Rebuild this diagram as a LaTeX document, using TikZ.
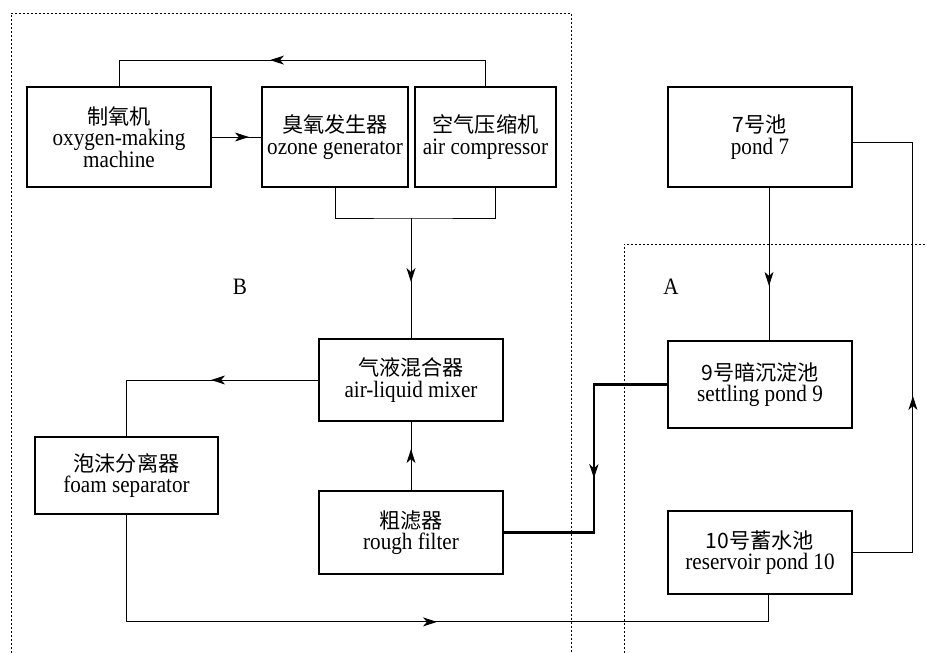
\documentclass[tikz,border=0pt]{standalone}
\usepackage{fontspec}
\setmainfont{Liberation Serif}[FakeStretch=0.9]
\newfontfamily\cjk{Noto Sans CJK SC}[Scale=0.9]
\usetikzlibrary{arrows.meta,decorations.markings,calc}
\tikzset{
  box/.style={draw, line width=1.8pt, inner sep=0pt, align=center,
    font=\fontsize{23.5}{21.5}\selectfont},
  conn/.style={line width=1pt},
  thickconn/.style={line width=2.4pt},
  region/.style={line width=0.9pt, dash pattern=on 2pt off 2pt},
  lab/.style={font=\fontsize{23.5}{22}\selectfont, inner sep=0pt},
  arrowat/.style={postaction={decorate}, decoration={markings,
    mark=at position #1 with {\arrow{Stealth[length=14pt,width=9pt,inset=4pt]}}}}
}
\begin{document}
\begin{tikzpicture}[x=1pt,y=-1pt]
\useasboundingbox (0,0) rectangle (927,653);
\fill[white] (0,0) rectangle (927,653);

% regions
\draw[region] (11,653) -- (11,13.5) -- (571,13.5) -- (571,653);
\draw[region] (624,653) -- (624,244) -- (927,244);
\node[lab] (lb) at (240,287) {B};
\node[lab] (la) at (671,287) {A};

% boxes
\node[box, minimum width=184pt, minimum height=100pt] (ox) at (119,137) {{\cjk 制氧机}\\oxygen-making\\machine};
\node[box, minimum width=146pt, minimum height=100pt] (oz) at (335,137) {{\cjk 臭氧发生器}\\ozone generator};
\node[box, minimum width=141pt, minimum height=100pt] (ac) at (485.5,137) {{\cjk 空气压缩机}\\air compressor};
\node[box, minimum width=184pt, minimum height=100pt] (p7) at (760,137) {{\cjk 7号池}\\pond 7};
\node[box, minimum width=184pt, minimum height=82pt] (mix) at (411,380) {{\cjk 气液混合器}\\air-liquid mixer};
\node[box, minimum width=183pt, minimum height=77pt] (foam) at (126.5,475.5) {{\cjk 泡沫分离器}\\foam separator};
\node[box, minimum width=184pt, minimum height=83pt] (rf) at (411,532.5) {{\cjk 粗滤器}\\rough filter};
\node[box, minimum width=184pt, minimum height=87pt] (sp) at (760,384.5) {{\cjk 9号暗沉淀池}\\settling pond 9};
\node[box, minimum width=184pt, minimum height=83pt] (r10) at (760,552.5) {{\cjk 10号蓄水池}\\reservoir pond 10};

% helper coordinates
\coordinate (actop) at ($(ac.north)+(0,-26)$);
\coordinate (merge) at (411,218);
\coordinate (acb) at ($(ac.south)+(9.5,0)$);
\coordinate (jog) at ($(rf.east)+(90,0)$);
\coordinate (p7b) at ($(p7.south)+(9,0)$);
\coordinate (spt) at ($(sp.north)+(9,0)$);
\coordinate (p7r) at ($(p7.east)+(0,5)$);
\coordinate (rc) at ($(r10.east)+(60,0)$);
\coordinate (fb) at ($(foam.south)+(0,107)$);
\coordinate (r10b) at ($(r10.south)+(8,0)$);

% connectors
\draw[conn, arrowat=241.5pt] (ac.north) -- (actop) -| (ox.north);
\draw[conn, arrowat=37pt] (ox.east) -- (oz.west);
\draw[conn] (oz.south) |- (merge) -| (acb);
\draw[conn, arrowat=64pt] (merge) -- (mix.north);
\draw[conn, arrowat=107pt] (mix.west) -| (foam.north);
\draw[conn, arrowat=41pt] (rf.north) -- (mix.south);
\draw[thickconn, arrowat=167pt] (sp.west) -| (jog) -- (rf.east);
\draw[conn, arrowat=98pt] (p7b) -- (spt);
\draw[conn, arrowat=216.5pt] (r10.east) -- (rc) |- (p7r);
\draw[conn, arrowat=417.5pt] (foam.south) -- (fb) -| (r10b);
\end{tikzpicture}
\end{document}
